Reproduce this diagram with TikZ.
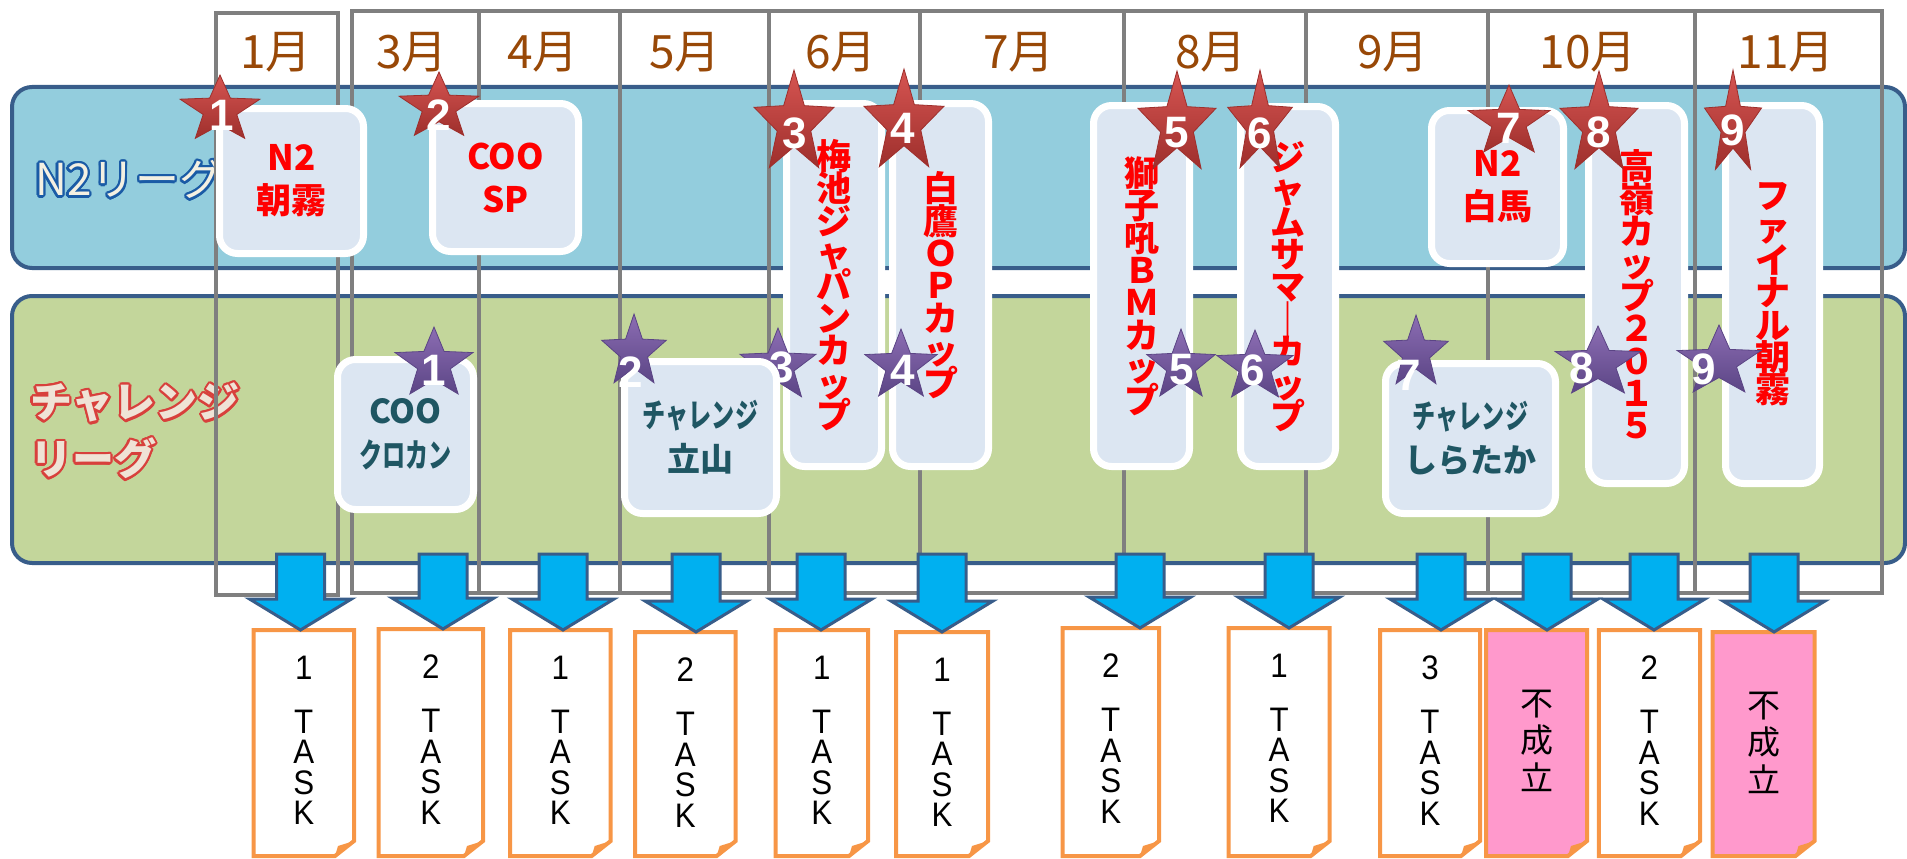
\documentclass[tikz,border=0pt]{standalone}
\usepackage{fontspec}
\setmainfont{Liberation Sans}
\newfontfamily\jp{Noto Sans CJK JP}
\newfontfamily\jpn{Noto Sans CJK JP}[FakeStretch=0.7]
\newfontfamily\latn{Liberation Sans}[FakeStretch=0.92]
\usetikzlibrary{calc}
\definecolor{bandblue}{HTML}{93CDDD}
\definecolor{bandgreen}{HTML}{C3D69B}
\definecolor{bandline}{HTML}{385D8A}
\definecolor{evfill}{HTML}{DCE6F2}
\definecolor{evred}{HTML}{FF0000}
\definecolor{evteal}{HTML}{1F5663}
\definecolor{monthc}{HTML}{984807}
\definecolor{gridc}{HTML}{7F7F7F}
\definecolor{srtop}{HTML}{D65552}
\definecolor{srbot}{HTML}{9E2F2C}
\definecolor{sptop}{HTML}{8C6DB3}
\definecolor{spbot}{HTML}{5B4585}
\definecolor{arrfill}{HTML}{00B0F0}
\definecolor{boxline}{HTML}{F79646}
\definecolor{pinkc}{HTML}{FF99CC}
\definecolor{n2out}{HTML}{1A5BA6}
\definecolor{n2in}{HTML}{F4F0E2}
\definecolor{chout}{HTML}{D8403C}
\definecolor{chin}{HTML}{EFE3D6}
\tikzset{
  band/.style={draw=bandline, line width=4pt, rounded corners=20pt},
  gridline/.style={draw=gridc, line width=4pt},
  ev/.style={draw=white, line width=7pt, fill=evfill, rounded corners=18pt, inner sep=0pt, align=center},
  redtxt/.style={text=evred, font=\jp\bfseries\fontsize{35}{43}\selectfont},
  vtxt/.style={text=evred, font=\jp\bfseries\fontsize{35}{32.4}\selectfont},
  tealtxt/.style={text=evteal, font=\jp\bfseries\fontsize{33}{44}\selectfont},
  month/.style={text=monthc, font=\jp\fontsize{46}{46}\selectfont, inner sep=0pt},
  redstar/.style={top color=srtop, bottom color=srbot, draw=srbot, line width=0.8pt},
  purplestar/.style={top color=sptop, bottom color=spbot, draw=spbot, line width=0.8pt},
  starnum/.style={text=white, font=\bfseries\fontsize{44}{44}\selectfont, inner sep=0pt},
  barrow/.style={fill=arrfill, draw=bandline, line width=3pt, line join=miter},
  tboxst/.style={draw=boxline, line width=4pt, line join=miter},
  tasktxt/.style={font=\latn\fontsize{34}{30.5}\selectfont, align=center, inner sep=0pt},
  ngtxt/.style={font=\jp\fontsize{33}{37.5}\selectfont, align=center, inner sep=0pt},
}
\newcommand\olabel[6]{%
  \foreach \a in {0,20,...,340}{\node[#3, text=#4] at ($(#2)+(\a:2.3)$) {#6};}
  \node[#3, text=#5] (#1) at (#2) {#6};}
\newcommand\evnode[7]{%
  \pgfmathsetmacro\evx{(#2+#4)/2}%
  \pgfmathsetmacro\evy{(#3+#5)/2}%
  \pgfmathsetmacro\evw{#4-#2-7}%
  \pgfmathsetmacro\evh{#5-#3-7}%
  \node[ev, #6, minimum width=\evw pt, minimum height=\evh pt] (#1) at (\evx,\evy) {#7};}
\newcommand\evstar[9]{%
  \begin{scope}[shift={(#2,#3)}]
    \pgfmathsetmacro\sia{0.42*#4}\pgfmathsetmacro\sib{0.42*#5}
    \path[#6] (-90:#4 and #5) -- (-54:{\sia} and {\sib}) -- (-18:#4 and #5) -- (18:{\sia} and {\sib})
      -- (54:#4 and #5) -- (90:{\sia} and {\sib}) -- (126:#4 and #5) -- (162:{\sia} and {\sib})
      -- (198:#4 and #5) -- (234:{\sia} and {\sib}) -- cycle;
  \end{scope}
  \node[starnum] (#1) at (#7,#8) {#9};}
\newcommand\evarrow[4]{%
  \draw[barrow] ({#2-24},#3) -- ({#2+24},#3) -- ({#2+24},{#4-31}) -- ({#2+51},{#4-31})
    -- (#2,#4) -- ({#2-51},{#4-31}) -- ({#2-24},{#4-31}) -- cycle;
  \coordinate (#1) at (#2,#4);}
\newcommand\taskbox[7]{%
  \draw[tboxst, fill=#5] (#2,#3) -- (#4,#3) -- (#4,841) -- ({#4-19},856) -- (#2,856) -- cycle;
  \fill[boxline] (#4,841) -- ({#4-16},846) -- ({#4-19},856) -- cycle;
  \node[#6] (#1) at ({(#2+#4)/2},{#3+110.5}) {#7};}
\begin{document}
\begin{tikzpicture}[x=1pt, y=-1pt]
\lineskiplimit=-100pt\lineskip=0pt
\useasboundingbox (0,0) rectangle (1907,859);
% bands
\draw[band, fill=bandblue] (12,87) rectangle (1905,268);
\draw[band, fill=bandgreen] (12,296) rectangle (1905,563);
% band labels
\olabel{lblN2}{35,179}{anchor=west, inner sep=0pt, font=\jp\fontsize{44}{44}\selectfont}{n2out}{n2in}{N2リーグ}
\olabel{lblCh}{30,431}{anchor=west, inner sep=0pt, align=left, font=\jp\bfseries\fontsize{42}{57}\selectfont}{chout}{chin}{チャレンジ\\リーグ}
% month grid
\draw[gridline] (216,13) rectangle (338,595);
\draw[gridline] (352,11) rectangle (1882,593);
\foreach \x in {479,620,769,920,1124,1306,1488,1695} \draw[gridline] (\x,11) -- (\x,593);
\node[month] (m1) at (276,52) {1月};
\node[month] (m3) at (412,52) {3月};
\node[month] (m4) at (543,52) {4月};
\node[month] (m5) at (685,52) {5月};
\node[month] (m6) at (841,52) {6月};
\node[month] (m7) at (1019,52) {7月};
\node[month] (m8) at (1211,52) {8月};
\node[month] (m9) at (1393,52) {9月};
\node[month] (m10) at (1588,52) {10月};
\node[month] (m11) at (1786,52) {11月};
% events
\evnode{n1}{216}{105}{367}{257}{redtxt}{N2\\朝霧}
\evnode{n2}{429}{100}{582}{255}{redtxt}{COO\\SP}
\evnode{n3}{783}{100}{885}{470}{vtxt}{梅\\池\\ジ\\ャ\\パ\\ン\\カ\\ッ\\プ}
\evnode{n4}{889}{100}{992}{470}{vtxt}{白\\鷹\\Ｏ\\Ｐ\\カ\\ッ\\プ}
\evnode{n5}{1090}{102}{1193}{470}{vtxt}{獅\\子\\吼\\Ｂ\\Ｍ\\カ\\ッ\\プ}
\evnode{n6}{1237}{103}{1339}{470}{vtxt}{ジ\\ャ\\ム\\サ\\マ\\｜\\カ\\ッ\\プ}
\evnode{n7}{1428}{107}{1567}{267}{redtxt}{N2\\白馬}
\evnode{n8}{1585}{102}{1688}{487}{vtxt}{高\\嶺\\カ\\ッ\\プ\\２\\０\\１\\５}
\evnode{n9}{1722}{102}{1823}{487}{vtxt}{フ\\ァ\\イ\\ナ\\ル\\朝\\霧}
\evnode{c1}{334}{356}{477}{513}{tealtxt}{COO\\{\jpn クロカン}}
\evnode{c7}{1382}{360}{1559}{517}{tealtxt}{{\jpn チャレンジ}\\しらたか}
\evstar{ps3}{778}{366}{40}{38}{purplestar}{782}{367}{3}
\evnode{c2}{621}{358}{780}{517}{tealtxt}{{\jpn チャレンジ}\\立山}
% stars
\evstar{rs1}{220}{110}{42}{35}{redstar}{222}{115}{1}
\evstar{rs2}{439}{107}{42}{35}{redstar}{439}{115}{2}
\evstar{rs3}{794}{124}{42}{54}{redstar}{795}{133}{3}
\evstar{rs4}{904}{123}{42}{54}{redstar}{903}{128}{4}
\evstar{rs5}{1177}{125}{41}{54}{redstar}{1177}{133}{5}
\evstar{rs6}{1260}{124}{34}{54}{redstar}{1260}{133}{6}
\evstar{rs7}{1509}{122}{43}{37}{redstar}{1509}{128}{7}
\evstar{rs8}{1599}{125}{41}{54}{redstar}{1599}{132}{8}
\evstar{rs9}{1733}{125}{30}{55}{redstar}{1733}{130}{9}
\evstar{ps1}{434}{364}{41}{37}{purplestar}{434}{370}{1}
\evstar{ps2}{634}{352}{34}{38}{purplestar}{631}{372}{2}
\evstar{ps4}{901}{366}{38}{37}{purplestar}{903}{370}{4}
\evstar{ps5}{1181}{366}{36}{37}{purplestar}{1182}{370}{5}
\evstar{ps6}{1255}{367}{40}{37}{purplestar}{1253}{370}{6}
\evstar{ps7}{1416}{353}{34}{38}{purplestar}{1409}{375}{7}
\evstar{ps8}{1598}{363}{45}{37}{purplestar}{1582}{368}{8}
\evstar{ps9}{1719}{362}{44}{37}{purplestar}{1704}{369}{9}
% task boxes
\taskbox{t1}{253.6}{630}{354}{white}{tasktxt}{1\\[23.5pt]T\\A\\S\\K}
\taskbox{t2}{378.6}{629}{483}{white}{tasktxt}{2\\[23.5pt]T\\A\\S\\K}
\taskbox{t3}{510}{630}{610.7}{white}{tasktxt}{1\\[23.5pt]T\\A\\S\\K}
\taskbox{t4}{635}{632}{735.7}{white}{tasktxt}{2\\[23.5pt]T\\A\\S\\K}
\taskbox{t5}{775.5}{630}{868}{white}{tasktxt}{1\\[23.5pt]T\\A\\S\\K}
\taskbox{t6}{896}{632}{988}{white}{tasktxt}{1\\[23.5pt]T\\A\\S\\K}
\taskbox{t7}{1062.5}{628}{1159}{white}{tasktxt}{2\\[23.5pt]T\\A\\S\\K}
\taskbox{t8}{1228.5}{628}{1329.7}{white}{tasktxt}{1\\[23.5pt]T\\A\\S\\K}
\taskbox{t9}{1380}{630}{1480}{white}{tasktxt}{3\\[23.5pt]T\\A\\S\\K}
\taskbox{t10}{1486}{630}{1587}{pinkc}{ngtxt}{不\\成\\立}
\taskbox{t11}{1598.8}{630}{1700}{white}{tasktxt}{2\\[23.5pt]T\\A\\S\\K}
\taskbox{t12}{1712.7}{632}{1814.5}{pinkc}{ngtxt}{不\\成\\立}
% arrows
\evarrow{a1}{300.5}{554}{630}
\evarrow{a2}{443}{554}{629}
\evarrow{a3}{563}{554}{630}
\evarrow{a4}{696}{554}{632}
\evarrow{a5}{821}{554}{630}
\evarrow{a6}{942}{554}{632}
\evarrow{a7}{1140}{554}{628}
\evarrow{a8}{1289}{554}{628}
\evarrow{a9}{1441}{554}{630}
\evarrow{a10}{1547}{554}{630}
\evarrow{a11}{1654}{554}{630}
\evarrow{a12}{1774}{554}{632}
\end{tikzpicture}
\end{document}
